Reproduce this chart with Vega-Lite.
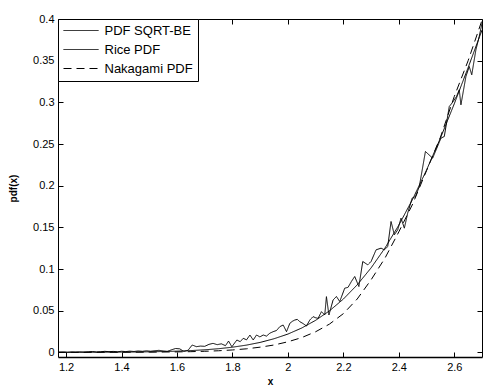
{
  "$schema": "https://vega.github.io/schema/vega-lite/v6.json",
  "width": 424,
  "height": 338,
  "autosize": {"type": "none"},
  "padding": {"left": 58, "top": 19, "right": 1, "bottom": 29},
  "background": "white",
  "config": {
    "view": {"stroke": null},
    "font": "Liberation Sans",
    "axis": {"grid": false, "domainColor": "black", "tickColor": "black", "labelColor": "black", "titleColor": "black", "labelFont": "Liberation Sans", "titleFont": "Liberation Sans", "labelFontSize": 11, "tickSize": -5, "domainWidth": 1, "tickWidth": 1}
  },
  "data": {"values": [
    {"s": "Rice PDF", "x": 1.17, "y": 0.00003},
    {"s": "Rice PDF", "x": 1.2, "y": 0.00004},
    {"s": "Rice PDF", "x": 1.25, "y": 0.00007},
    {"s": "Rice PDF", "x": 1.3, "y": 0.00011},
    {"s": "Rice PDF", "x": 1.35, "y": 0.00017},
    {"s": "Rice PDF", "x": 1.4, "y": 0.00027},
    {"s": "Rice PDF", "x": 1.45, "y": 0.00041},
    {"s": "Rice PDF", "x": 1.5, "y": 0.00063},
    {"s": "Rice PDF", "x": 1.55, "y": 0.00095},
    {"s": "Rice PDF", "x": 1.6, "y": 0.00142},
    {"s": "Rice PDF", "x": 1.65, "y": 0.00209},
    {"s": "Rice PDF", "x": 1.7, "y": 0.00303},
    {"s": "Rice PDF", "x": 1.75, "y": 0.00434},
    {"s": "Rice PDF", "x": 1.8, "y": 0.00616},
    {"s": "Rice PDF", "x": 1.85, "y": 0.00863},
    {"s": "Rice PDF", "x": 1.9, "y": 0.0119},
    {"s": "Rice PDF", "x": 1.95, "y": 0.0163},
    {"s": "Rice PDF", "x": 2.0, "y": 0.0219},
    {"s": "Rice PDF", "x": 2.05, "y": 0.0292},
    {"s": "Rice PDF", "x": 2.1, "y": 0.0384},
    {"s": "Rice PDF", "x": 2.15, "y": 0.0498},
    {"s": "Rice PDF", "x": 2.2, "y": 0.0639},
    {"s": "Rice PDF", "x": 2.25, "y": 0.081},
    {"s": "Rice PDF", "x": 2.3, "y": 0.1013},
    {"s": "Rice PDF", "x": 2.35, "y": 0.1251},
    {"s": "Rice PDF", "x": 2.4, "y": 0.1526},
    {"s": "Rice PDF", "x": 2.45, "y": 0.1838},
    {"s": "Rice PDF", "x": 2.5, "y": 0.2187},
    {"s": "Rice PDF", "x": 2.55, "y": 0.257},
    {"s": "Rice PDF", "x": 2.6, "y": 0.2982},
    {"s": "Rice PDF", "x": 2.65, "y": 0.3417},
    {"s": "Rice PDF", "x": 2.7, "y": 0.3867},
    {"s": "Nakagami PDF", "x": 1.17, "y": 0.000005},
    {"s": "Nakagami PDF", "x": 1.2, "y": 0.00001},
    {"s": "Nakagami PDF", "x": 1.3, "y": 0.00003},
    {"s": "Nakagami PDF", "x": 1.4, "y": 0.00008},
    {"s": "Nakagami PDF", "x": 1.5, "y": 0.00021},
    {"s": "Nakagami PDF", "x": 1.6, "y": 0.00053},
    {"s": "Nakagami PDF", "x": 1.65, "y": 0.00081},
    {"s": "Nakagami PDF", "x": 1.7, "y": 0.00125},
    {"s": "Nakagami PDF", "x": 1.75, "y": 0.0019},
    {"s": "Nakagami PDF", "x": 1.8, "y": 0.00285},
    {"s": "Nakagami PDF", "x": 1.85, "y": 0.0042},
    {"s": "Nakagami PDF", "x": 1.9, "y": 0.0062},
    {"s": "Nakagami PDF", "x": 1.95, "y": 0.0088},
    {"s": "Nakagami PDF", "x": 2.0, "y": 0.01265},
    {"s": "Nakagami PDF", "x": 2.05, "y": 0.0177},
    {"s": "Nakagami PDF", "x": 2.1, "y": 0.0247},
    {"s": "Nakagami PDF", "x": 2.15, "y": 0.0339},
    {"s": "Nakagami PDF", "x": 2.2, "y": 0.0464},
    {"s": "Nakagami PDF", "x": 2.25, "y": 0.064},
    {"s": "Nakagami PDF", "x": 2.3, "y": 0.087},
    {"s": "Nakagami PDF", "x": 2.35, "y": 0.113},
    {"s": "Nakagami PDF", "x": 2.4, "y": 0.1445},
    {"s": "Nakagami PDF", "x": 2.45, "y": 0.178},
    {"s": "Nakagami PDF", "x": 2.5, "y": 0.218},
    {"s": "Nakagami PDF", "x": 2.55, "y": 0.258},
    {"s": "Nakagami PDF", "x": 2.6, "y": 0.307},
    {"s": "Nakagami PDF", "x": 2.65, "y": 0.35},
    {"s": "Nakagami PDF", "x": 2.7, "y": 0.3985},
    {"s": "PDF SQRT-BE", "x": 1.175, "y": 0.0002},
    {"s": "PDF SQRT-BE", "x": 1.19, "y": 0.0003},
    {"s": "PDF SQRT-BE", "x": 1.205, "y": 0.0001},
    {"s": "PDF SQRT-BE", "x": 1.22, "y": 0.0004},
    {"s": "PDF SQRT-BE", "x": 1.235, "y": 0.0002},
    {"s": "PDF SQRT-BE", "x": 1.25, "y": 0.0005},
    {"s": "PDF SQRT-BE", "x": 1.265, "y": 0.0003},
    {"s": "PDF SQRT-BE", "x": 1.28, "y": 0.0006},
    {"s": "PDF SQRT-BE", "x": 1.295, "y": 0.001},
    {"s": "PDF SQRT-BE", "x": 1.31, "y": 0.0004},
    {"s": "PDF SQRT-BE", "x": 1.325, "y": 0.0007},
    {"s": "PDF SQRT-BE", "x": 1.34, "y": 0.0012},
    {"s": "PDF SQRT-BE", "x": 1.355, "y": 0.0008},
    {"s": "PDF SQRT-BE", "x": 1.37, "y": 0.0011},
    {"s": "PDF SQRT-BE", "x": 1.385, "y": 0.0006},
    {"s": "PDF SQRT-BE", "x": 1.4, "y": 0.0013},
    {"s": "PDF SQRT-BE", "x": 1.415, "y": 0.0009},
    {"s": "PDF SQRT-BE", "x": 1.43, "y": 0.0014},
    {"s": "PDF SQRT-BE", "x": 1.445, "y": 0.001},
    {"s": "PDF SQRT-BE", "x": 1.46, "y": 0.0016},
    {"s": "PDF SQRT-BE", "x": 1.475, "y": 0.0012},
    {"s": "PDF SQRT-BE", "x": 1.49, "y": 0.0018},
    {"s": "PDF SQRT-BE", "x": 1.505, "y": 0.0013},
    {"s": "PDF SQRT-BE", "x": 1.52, "y": 0.0019},
    {"s": "PDF SQRT-BE", "x": 1.535, "y": 0.0024},
    {"s": "PDF SQRT-BE", "x": 1.55, "y": 0.0017},
    {"s": "PDF SQRT-BE", "x": 1.565, "y": 0.0011},
    {"s": "PDF SQRT-BE", "x": 1.58, "y": 0.003},
    {"s": "PDF SQRT-BE", "x": 1.595, "y": 0.0046},
    {"s": "PDF SQRT-BE", "x": 1.61, "y": 0.0042},
    {"s": "PDF SQRT-BE", "x": 1.625, "y": 0.001},
    {"s": "PDF SQRT-BE", "x": 1.64, "y": 0.0025},
    {"s": "PDF SQRT-BE", "x": 1.655, "y": 0.0088},
    {"s": "PDF SQRT-BE", "x": 1.67, "y": 0.0068},
    {"s": "PDF SQRT-BE", "x": 1.685, "y": 0.0075},
    {"s": "PDF SQRT-BE", "x": 1.7, "y": 0.0072},
    {"s": "PDF SQRT-BE", "x": 1.715, "y": 0.0095},
    {"s": "PDF SQRT-BE", "x": 1.73, "y": 0.0108},
    {"s": "PDF SQRT-BE", "x": 1.745, "y": 0.0092},
    {"s": "PDF SQRT-BE", "x": 1.76, "y": 0.0102},
    {"s": "PDF SQRT-BE", "x": 1.775, "y": 0.008},
    {"s": "PDF SQRT-BE", "x": 1.786, "y": 0.0135},
    {"s": "PDF SQRT-BE", "x": 1.798, "y": 0.0067},
    {"s": "PDF SQRT-BE", "x": 1.816, "y": 0.0148},
    {"s": "PDF SQRT-BE", "x": 1.828, "y": 0.0128},
    {"s": "PDF SQRT-BE", "x": 1.839, "y": 0.0168},
    {"s": "PDF SQRT-BE", "x": 1.851, "y": 0.015},
    {"s": "PDF SQRT-BE", "x": 1.863, "y": 0.0208},
    {"s": "PDF SQRT-BE", "x": 1.875, "y": 0.0148},
    {"s": "PDF SQRT-BE", "x": 1.887, "y": 0.0208},
    {"s": "PDF SQRT-BE", "x": 1.899, "y": 0.0185},
    {"s": "PDF SQRT-BE", "x": 1.911, "y": 0.0208},
    {"s": "PDF SQRT-BE", "x": 1.923, "y": 0.0195},
    {"s": "PDF SQRT-BE", "x": 1.935, "y": 0.023},
    {"s": "PDF SQRT-BE", "x": 1.947, "y": 0.0248},
    {"s": "PDF SQRT-BE", "x": 1.959, "y": 0.0262},
    {"s": "PDF SQRT-BE", "x": 1.971, "y": 0.0308},
    {"s": "PDF SQRT-BE", "x": 1.983, "y": 0.0328},
    {"s": "PDF SQRT-BE", "x": 1.995, "y": 0.0248},
    {"s": "PDF SQRT-BE", "x": 2.007, "y": 0.0348},
    {"s": "PDF SQRT-BE", "x": 2.016, "y": 0.0372},
    {"s": "PDF SQRT-BE", "x": 2.025, "y": 0.0388},
    {"s": "PDF SQRT-BE", "x": 2.034, "y": 0.0395},
    {"s": "PDF SQRT-BE", "x": 2.043, "y": 0.0368},
    {"s": "PDF SQRT-BE", "x": 2.055, "y": 0.0345},
    {"s": "PDF SQRT-BE", "x": 2.067, "y": 0.0316},
    {"s": "PDF SQRT-BE", "x": 2.079, "y": 0.0388},
    {"s": "PDF SQRT-BE", "x": 2.091, "y": 0.0428},
    {"s": "PDF SQRT-BE", "x": 2.1, "y": 0.0415},
    {"s": "PDF SQRT-BE", "x": 2.109, "y": 0.0408},
    {"s": "PDF SQRT-BE", "x": 2.121, "y": 0.0488},
    {"s": "PDF SQRT-BE", "x": 2.133, "y": 0.0448},
    {"s": "PDF SQRT-BE", "x": 2.139, "y": 0.0668},
    {"s": "PDF SQRT-BE", "x": 2.148, "y": 0.0448},
    {"s": "PDF SQRT-BE", "x": 2.163, "y": 0.0628},
    {"s": "PDF SQRT-BE", "x": 2.175, "y": 0.067},
    {"s": "PDF SQRT-BE", "x": 2.187, "y": 0.061},
    {"s": "PDF SQRT-BE", "x": 2.205, "y": 0.077},
    {"s": "PDF SQRT-BE", "x": 2.217, "y": 0.078},
    {"s": "PDF SQRT-BE", "x": 2.229, "y": 0.085},
    {"s": "PDF SQRT-BE", "x": 2.241, "y": 0.091},
    {"s": "PDF SQRT-BE", "x": 2.256, "y": 0.079},
    {"s": "PDF SQRT-BE", "x": 2.27, "y": 0.109},
    {"s": "PDF SQRT-BE", "x": 2.288, "y": 0.105},
    {"s": "PDF SQRT-BE", "x": 2.3, "y": 0.109},
    {"s": "PDF SQRT-BE", "x": 2.318, "y": 0.123},
    {"s": "PDF SQRT-BE", "x": 2.336, "y": 0.125},
    {"s": "PDF SQRT-BE", "x": 2.348, "y": 0.123},
    {"s": "PDF SQRT-BE", "x": 2.36, "y": 0.127},
    {"s": "PDF SQRT-BE", "x": 2.372, "y": 0.157},
    {"s": "PDF SQRT-BE", "x": 2.384, "y": 0.141},
    {"s": "PDF SQRT-BE", "x": 2.396, "y": 0.147},
    {"s": "PDF SQRT-BE", "x": 2.408, "y": 0.161},
    {"s": "PDF SQRT-BE", "x": 2.42, "y": 0.149},
    {"s": "PDF SQRT-BE", "x": 2.432, "y": 0.167},
    {"s": "PDF SQRT-BE", "x": 2.448, "y": 0.185},
    {"s": "PDF SQRT-BE", "x": 2.46, "y": 0.187},
    {"s": "PDF SQRT-BE", "x": 2.474, "y": 0.199},
    {"s": "PDF SQRT-BE", "x": 2.496, "y": 0.241},
    {"s": "PDF SQRT-BE", "x": 2.522, "y": 0.233},
    {"s": "PDF SQRT-BE", "x": 2.537, "y": 0.245},
    {"s": "PDF SQRT-BE", "x": 2.552, "y": 0.257},
    {"s": "PDF SQRT-BE", "x": 2.564, "y": 0.259},
    {"s": "PDF SQRT-BE", "x": 2.582, "y": 0.295},
    {"s": "PDF SQRT-BE", "x": 2.594, "y": 0.3},
    {"s": "PDF SQRT-BE", "x": 2.608, "y": 0.307},
    {"s": "PDF SQRT-BE", "x": 2.618, "y": 0.315},
    {"s": "PDF SQRT-BE", "x": 2.624, "y": 0.297},
    {"s": "PDF SQRT-BE", "x": 2.642, "y": 0.331},
    {"s": "PDF SQRT-BE", "x": 2.654, "y": 0.343},
    {"s": "PDF SQRT-BE", "x": 2.663, "y": 0.333},
    {"s": "PDF SQRT-BE", "x": 2.678, "y": 0.363},
    {"s": "PDF SQRT-BE", "x": 2.69, "y": 0.379},
    {"s": "PDF SQRT-BE", "x": 2.7, "y": 0.395}
  ]},
  "layer": [
    {
      "mark": {"type": "line", "color": "black", "strokeWidth": 1, "clip": true},
      "encoding": {
        "x": {"field": "x", "type": "quantitative", "scale": {"domain": [1.171, 2.7], "nice": false, "zero": false},
          "axis": {"orient": "bottom", "values": [1.2, 1.4, 1.6, 1.8, 2, 2.2, 2.4, 2.6], "format": "~g", "labelPadding": 9, "title": "x", "titleFontSize": 10, "titleFontWeight": "bold", "titleY": 24, "titleBaseline": "middle", "domainWidth": 1.5}},
        "y": {"field": "y", "type": "quantitative", "scale": {"domain": [-0.0056, 0.4], "nice": false, "zero": false},
          "axis": {"orient": "left", "values": [0, 0.05, 0.1, 0.15, 0.2, 0.25, 0.3, 0.35, 0.4], "format": "~g", "labelPadding": 9, "title": "pdf(x)", "titleFontSize": 10, "titleFontWeight": "bold", "titleX": -45, "titleY": 169, "titleAngle": -90, "titleBaseline": "middle", "titleAlign": "center"}},
        "detail": {"field": "s"},
        "strokeDash": {"field": "s", "type": "nominal",
          "scale": {"domain": ["PDF SQRT-BE", "Rice PDF", "Nakagami PDF"], "range": [[1, 0], [1, 0], [8, 5]]},
          "legend": {"title": null, "orient": "none", "legendX": 0, "legendY": 0, "strokeColor": "black", "fillColor": "white", "padding": 5, "symbolType": "M-3.5,0H3.5", "symbolSize": 100, "symbolOffset": 11.5, "symbolStrokeWidth": 1, "symbolStrokeColor": "black", "symbolFillColor": "transparent", "labelFontSize": 13, "labelFont": "Liberation Sans", "labelColor": "black", "labelOffset": 17, "rowPadding": 5, "labelLimit": 300, "labelExpr": "datum.label == 'PDF SQRT-BE' ? '\u2002PDF SQRT-BE' : datum.label"}}
      }
    },
    {
      "mark": {"type": "point", "opacity": 0},
      "encoding": {
        "x": {"field": "x", "type": "quantitative", "axis": {"orient": "top", "values": [1.2, 1.4, 1.6, 1.8, 2, 2.2, 2.4, 2.6], "labels": false, "title": null}},
        "y": {"field": "y", "type": "quantitative", "axis": {"orient": "right", "values": [0, 0.05, 0.1, 0.15, 0.2, 0.25, 0.3, 0.35, 0.4], "labels": false, "title": null}}
      }
    }
  ],
  "resolve": {"axis": {"x": "independent", "y": "independent"}}
}
